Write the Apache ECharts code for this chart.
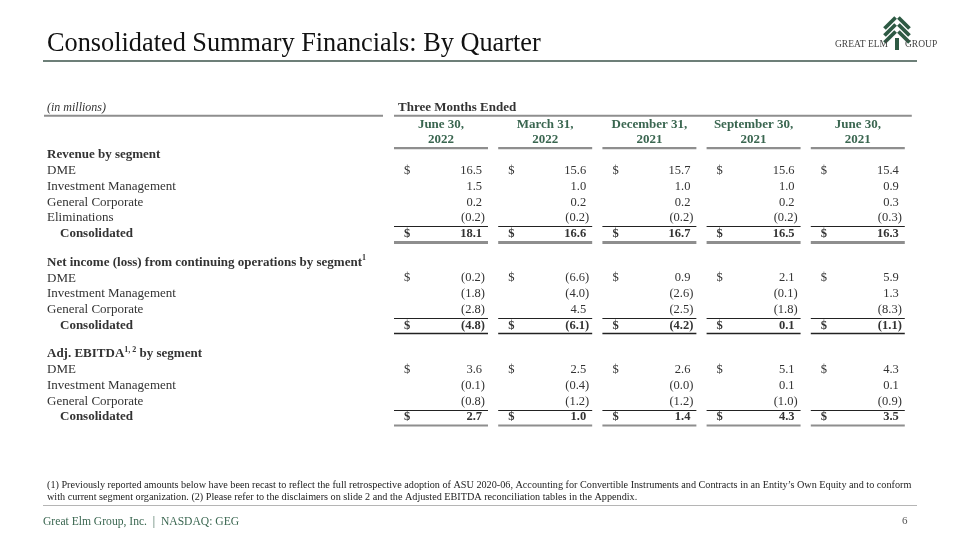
<!DOCTYPE html>
<html><head><meta charset="utf-8">
<script src="https://cdn.jsdelivr.net/npm/echarts@6/dist/echarts.min.js"></script>
<style>html,body{margin:0;padding:0;background:#fff}#c{width:960px;height:540px}</style>
</head><body><div id="c"></div>
<script>
// ---------- DATA ----------
const quarterMonths = ['June 30,', 'March 31,', 'December 31,', 'September 30,', 'June 30,'];
const quarterYears = ['2022', '2022', '2021', '2021', '2021'];

const revenueLabels = ['DME', 'Investment Management', 'General Corporate', 'Eliminations', 'Consolidated'];
const revenueDME = [16.5, 15.6, 15.7, 15.6, 15.4];
const revenueIM = [1.5, 1.0, 1.0, 1.0, 0.9];
const revenueGC = [0.2, 0.2, 0.2, 0.2, 0.3];
const revenueElim = [-0.2, -0.2, -0.2, -0.2, -0.3];
const revenueConsolidated = [18.1, 16.6, 16.7, 16.5, 16.3];

const netLabels = ['DME', 'Investment Management', 'General Corporate', 'Consolidated'];
const netDME = [-0.2, -6.6, 0.9, 2.1, 5.9];
const netIM = [-1.8, -4.0, -2.6, -0.1, 1.3];
const netGC = [-2.8, 4.5, -2.5, -1.8, -8.3];
const netConsolidated = [-4.8, -6.1, -4.2, 0.1, -1.1];

const ebitdaLabels = ['DME', 'Investment Management', 'General Corporate', 'Consolidated'];
const ebitdaDME = [3.6, 2.5, 2.6, 5.1, 4.3];
const ebitdaIM = [-0.1, -0.4, -0.0, 0.1, 0.1];
const ebitdaGC = [-0.8, -1.2, -1.2, -1.0, -0.9];
const ebitdaConsolidated = [2.7, 1.0, 1.4, 4.3, 3.5];

// ---------- LAYOUT ----------
const FONT = '"Liberation Serif", "DejaVu Serif", serif';
const TEXT = '#333333';
const GREEN = '#3a6650';

const sections = [
  { title: '{b|Revenue by segment}', labels: revenueLabels,
    series: [revenueDME, revenueIM, revenueGC, revenueElim, revenueConsolidated],
    bottomColor: '#8e8e8e', bottomWidth: 3 },
  { title: '{b|Net income (loss) from continuing operations by segment}{s|1}', labels: netLabels,
    series: [netDME, netIM, netGC, netConsolidated],
    bottomColor: '#222222', bottomWidth: 1.3 },
  { title: '{b|Adj. EBITDA}{s|1, 2}{b| by segment}', labels: ebitdaLabels,
    series: [ebitdaDME, ebitdaIM, ebitdaGC, ebitdaConsolidated],
    bottomColor: '#8e8e8e', bottomWidth: 2.2 }
];

const rowLabels = [];   // {y, text, kind}
const cells = [];       // {col, y, value, dollar, bold}
const rules = [];       // {y, color, width}
let yPos = 0;
sections.forEach((sec, si) => {
  rowLabels.push({ y: yPos, text: sec.title, kind: 'head' });
  sec.labels.forEach((lab, ri) => {
    const y = yPos + 1 + ri;
    const isTotal = ri === sec.labels.length - 1;
    rowLabels.push({ y, text: lab, kind: isTotal ? 'total' : 'row' });
    sec.series[ri].forEach((v, c) => {
      cells.push({ col: c, y, value: v, dollar: ri === 0 || isTotal, bold: isTotal });
    });
    if (isTotal) {
      rules.push({ y: y - 0.48, color: '#222222', width: 1 });
      rules.push({ y: y + 0.5, color: sec.bottomColor, width: sec.bottomWidth });
    }
  });
  yPos = yPos + sec.labels.length + 1.82;
});

const COL_W = 0.902;
const HEAD_TOP_Y = -3.0, MONTH_Y = -1.93, YEAR_Y = -0.98, TOPLINE_Y = -2.5, HEADLINE_Y = -0.44;

function fmt(v) {
  const neg = v < 0 || Object.is(v, -0);
  return neg ? '(' + Math.abs(v).toFixed(1) + ')' : v.toFixed(1);
}
function txt(x, y, text, font, fill, align, extra) {
  return Object.assign({ type: 'text', style: {
    x, y, text, font, fill, align, textAlign: align, verticalAlign: 'middle', textVerticalAlign: 'middle'
  } }, extra || {});
}

const chart = echarts.init(document.getElementById('c'), null, { renderer: 'canvas' });

const option = {
  animation: false,
  backgroundColor: '#ffffff',
  grid: { left: 394, top: 92, width: 521, height: 378 },
  xAxis: { type: 'value', min: 0, max: 5, show: false },
  yAxis: { type: 'value', min: -4, max: 20, inverse: true, show: false },
  graphic: [
    // title
    { type: 'text', left: 47, top: 31, style: { text: 'Consolidated Summary Financials: By Quarter',
      font: '26.3px ' + FONT, fill: '#111111' } },
    { type: 'line', shape: { x1: 43, y1: 61, x2: 917, y2: 61 }, style: { stroke: '#6d7f78', lineWidth: 2 } },
    // logo
    { type: 'group', children: [0, 1, 2].map(k => ({
        type: 'polyline', shape: { points: [[884.5, 28.5 + k * 7], [895.6, 17.5 + k * 7]] },
        style: { stroke: '#2e5a44', lineWidth: 3.8 } })).concat([0, 1, 2].map(k => ({
        type: 'polyline', shape: { points: [[898.4, 17.5 + k * 7], [909.5, 28.5 + k * 7]] },
        style: { stroke: '#2e5a44', lineWidth: 3.8 } }))).concat([
        { type: 'rect', shape: { x: 895, y: 38, width: 4, height: 12 }, style: { fill: '#2e5a44' } },
        { type: 'text', x: 888, y: 44.5, style: { text: 'GREAT ELM', font: '9.5px ' + FONT, fill: '#444',
          align: 'right', textAlign: 'right', verticalAlign: 'middle', textVerticalAlign: 'middle' } },
        { type: 'text', x: 905, y: 44.5, style: { text: 'GROUP', font: '9.5px ' + FONT, fill: '#444',
          align: 'left', textAlign: 'left', verticalAlign: 'middle', textVerticalAlign: 'middle' } }
      ]) },
    // footnote
    { type: 'text', left: 47, top: 480, style: {
      text: '(1) Previously reported amounts below have been recast to reflect the full retrospective adoption of ASU 2020-06, Accounting for Convertible Instruments and Contracts in an Entity\u2019s Own Equity and to conform\nwith current segment organization. (2) Please refer to the disclaimers on slide 2 and the Adjusted EBITDA reconciliation tables in the Appendix.',
      font: '10.2px ' + FONT, fill: '#222', lineHeight: 11.5 } },
    { type: 'line', shape: { x1: 43, y1: 505.5, x2: 917, y2: 505.5 }, style: { stroke: '#b5b5b5', lineWidth: 1 } },
    { type: 'text', left: 43, top: 516, style: { text: 'Great Elm Group, Inc.  |  NASDAQ: GEG', font: '11.6px ' + FONT, fill: GREEN } },
    { type: 'text', left: 902, top: 516, style: { text: '6', font: '11px ' + FONT, fill: '#555' } }
  ],
  series: [
    // header texts
    {
      type: 'custom', silent: true, clip: false,
      data: quarterMonths.map((m, i) => [i, 0]),
      renderItem: (params, api) => {
        const i = params.dataIndex;
        const left = api.coord([i, 0])[0];
        const right = api.coord([i + COL_W, 0])[0];
        const cx = (left + right) / 2;
        const font = 'bold 13px ' + FONT;
        return { type: 'group', children: [
          txt(cx, api.coord([0, MONTH_Y])[1], quarterMonths[i], font, GREEN, 'center'),
          txt(cx, api.coord([0, YEAR_Y])[1], quarterYears[i], font, GREEN, 'center'),
          { type: 'line', shape: { x1: left, y1: api.coord([0, HEADLINE_Y])[1], x2: right, y2: api.coord([0, HEADLINE_Y])[1] },
            style: { stroke: '#8e8e8e', lineWidth: 2.2 } }
        ] };
      }
    },
    // top header row
    {
      type: 'custom', silent: true, clip: false,
      data: [[0, HEAD_TOP_Y]],
      renderItem: (params, api) => {
        const y = api.coord([0, HEAD_TOP_Y])[1];
        const ly = api.coord([0, TOPLINE_Y])[1];
        const x0 = api.coord([0, 0])[0];
        const x1 = api.coord([4 + COL_W, 0])[0];
        return { type: 'group', children: [
          txt(47, y, '(in millions)', 'italic 12px ' + FONT, TEXT, 'left'),
          txt(x0 + 4, y, 'Three Months Ended', 'bold 13px ' + FONT, TEXT, 'left'),
          { type: 'line', shape: { x1: 44, y1: ly, x2: x0 - 11, y2: ly }, style: { stroke: '#8e8e8e', lineWidth: 2 } },
          { type: 'line', shape: { x1: x0, y1: ly, x2: x1 + 7, y2: ly }, style: { stroke: '#8e8e8e', lineWidth: 2 } }
        ] };
      }
    },
    // row labels
    {
      type: 'custom', silent: true, clip: false,
      data: rowLabels.map(r => [0, r.y]),
      renderItem: (params, api) => {
        const r = rowLabels[params.dataIndex];
        const y = api.coord([0, api.value(1)])[1];
        if (r.kind === 'head') {
          return { type: 'text', style: {
            x: 47, y, text: r.text, fill: TEXT, align: 'left', textAlign: 'left',
            verticalAlign: 'middle', textVerticalAlign: 'middle',
            rich: {
              b: { font: 'bold 13px ' + FONT, fill: TEXT, lineHeight: 16 },
              s: { font: 'bold 8px ' + FONT, fill: TEXT, verticalAlign: 'top', lineHeight: 10 }
            } } };
        }
        const bold = r.kind === 'total';
        return txt(bold ? 60 : 47, y, r.text, (bold ? 'bold ' : '') + '13px ' + FONT, TEXT, 'left');
      }
    },
    // value cells
    {
      type: 'custom', silent: true, clip: false,
      data: cells.map(c => [c.col, c.y, c.value]),
      renderItem: (params, api) => {
        const c = cells[params.dataIndex];
        const p = api.coord([api.value(0), api.value(1)]);
        const x0 = p[0], y = p[1];
        const font = (c.bold ? 'bold ' : '') + '12.5px ' + FONT;
        const neg = c.value < 0 || Object.is(c.value, -0);
        const children = [];
        if (c.dollar) children.push(txt(x0 + 10, y, '$', font, TEXT, 'left'));
        children.push(txt(x0 + 91 - (neg ? 0 : 3), y, fmt(c.value), font, TEXT, 'right'));
        return { type: 'group', children };
      }
    },
    // rules under/above totals
    {
      type: 'custom', silent: true, clip: false,
      data: rules.flatMap(r => [0, 1, 2, 3, 4].map(c => [c, r.y])),
      renderItem: (params, api) => {
        const r = rules[Math.floor(params.dataIndex / 5)];
        const c = api.value(0);
        const y = Math.round(api.coord([c, api.value(1)])[1]) + (r.width % 2 ? 0.5 : 0);
        const l = api.coord([c, 0])[0], rr = api.coord([c + COL_W, 0])[0];
        return { type: 'line', shape: { x1: l, y1: y, x2: rr, y2: y }, style: { stroke: r.color, lineWidth: r.width } };
      }
    }
  ]
};
chart.setOption(option);
</script>
</body></html>
